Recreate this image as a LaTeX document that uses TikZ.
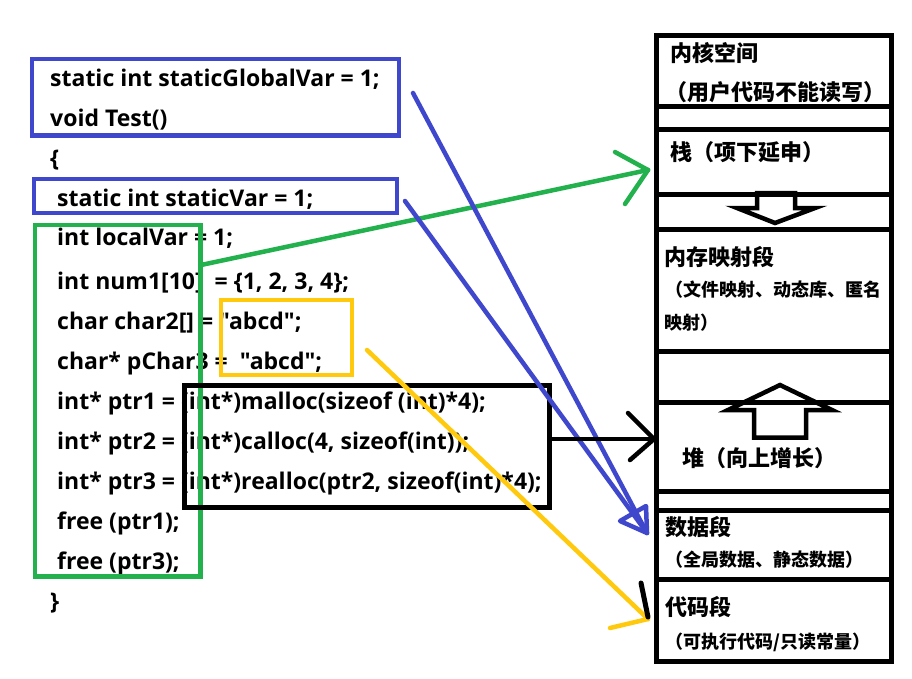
\documentclass[tikz,border=0pt]{standalone}
\usepackage{fontspec}
\newfontfamily\codefont{Open Sans}
\newfontfamily\cjkfont{Noto Sans CJK SC}
\definecolor{myblue}{RGB}{63,72,204}
\definecolor{mygreen}{RGB}{34,177,76}
\definecolor{myyellow}{RGB}{255,201,14}
\begin{document}
\begin{tikzpicture}[x=1pt,y=-1pt,
  code/.style={anchor=base west, inner sep=0pt, font=\codefont\bfseries\fontsize{23}{23}\selectfont},
  head/.style={anchor=west, inner sep=0pt, font=\cjkfont\bfseries\fontsize{22}{22}\selectfont},
  subtext/.style={anchor=west, inner sep=0pt, font=\cjkfont\bfseries\fontsize{18}{18}\selectfont},
  frame/.style={draw=#1, line width=4.5pt, inner sep=0pt, outer sep=0pt, rectangle},
  seg/.style={draw=black, line width=5pt, inner sep=0pt, outer sep=0pt, rectangle, minimum width=235pt},
  blockarrow/.style={draw=black, line width=4.5pt, line join=miter},
  conn/.style={line width=4.5pt, line cap=round},
]
\useasboundingbox[fill=white] (0,0) rectangle (912,678);

% ---------- code text ----------
\node[code] (l1)  at (50,86)  {static int staticGlobalVar = 1;};
\node[code] (l2)  at (50,126) {void Test()};
\node[code] (l3)  at (50,166) {\{};
\node[code] (l4)  at (57,206) {static int staticVar = 1;};
\node[code] (l5)  at (57,245) {int localVar = 1;};
\node[code] (l6)  at (57,289) {int num1[10]\ \ = \{1, 2, 3, 4\};};
\node[code] (l7)  at (57,329) {char char2[] = "abcd";};
\node[code] (l8)  at (57,369) {char* pChar3 =\ \ "abcd";};
\node[code] (l9)  at (57,409) {int* ptr1 = (int*)malloc(sizeof (int)*4);};
\node[code] (l10) at (57,449) {int* ptr2 = (int*)calloc(4, sizeof(int));};
\node[code] (l11) at (57,489) {int* ptr3 = (int*)realloc(ptr2, sizeof(int)*4);};
\node[code] (l12) at (57,529) {free (ptr1);};
\node[code] (l13) at (57,569) {free (ptr3);};
\node[code] (l14) at (50,609) {\}};

% ---------- code frames ----------
\node[frame=myblue, minimum width=367pt, minimum height=76.5pt] (gbox) at (215.5,97.25) {};
\node[frame=myblue, minimum width=363pt, minimum height=34pt] (sbox) at (215.5,196) {};
\node[frame=mygreen, minimum width=165.5pt, minimum height=351.5pt] (localbox) at (117.75,400.75) {};
\node[frame=myyellow, minimum width=131pt, minimum height=75pt] (strbox) at (286.5,337.5) {};
\node[frame=black, line width=5pt, minimum width=365pt, minimum height=121.5pt] (heapbox) at (366.5,446.25) {};

% ---------- memory segments ----------
\node[seg, minimum height=71pt]   (kernel) at (773.5,70.5) {};
\node[seg, minimum height=23.5pt] (gapA)   at (773.5,117.75) {};
\node[seg, minimum height=65pt]   (stack)  at (773.5,162) {};
\node[seg, minimum height=35pt]   (downb)  at (773.5,212) {};
\node[seg, minimum height=121.5pt] (mmap)  at (773.5,290.25) {};
\node[seg, minimum height=51pt]   (upb)    at (773.5,376.5) {};
\node[seg, minimum height=89pt]   (heap)   at (773.5,446.5) {};
\node[seg, minimum height=19pt]   (gapB)   at (773.5,500.5) {};
\node[seg, minimum height=69pt]   (data)   at (773.5,544.5) {};
\node[seg, minimum height=82pt]   (codeseg) at (773.5,620) {};

% block arrows
\draw[blockarrow] (757,193)--(757,208)--(737,208)--(775,223)--(815,208)--(795,208)--(795,193)--cycle;
\draw[blockarrow] (754,437.5)--(754,410)--(728,410)--(780,385)--(832,410)--(806,410)--(806,437.5)--cycle;

% ---------- segment texts ----------
\node[head]    (t1)  at (670,53)  {内核空间};
\node[head]    (t2)  at (665,92)  {（用户代码不能读写）};
\node[head]    (t3)  at (670,152) {栈（项下延申）};
\node[head]    (t4)  at (664,257) {内存映射段};
\node[subtext] (t5)  at (665,290) {（文件映射、动态库、匿名};
\node[subtext] (t6)  at (664,323) {映射）};
\node[head]    (t7)  at (682,458) {堆（向上增长）};
\node[head]    (t8)  at (665,527) {数据段};
\node[subtext] (t9)  at (665,560) {（全局数据、静态数据）};
\node[head]    (t10) at (665,607) {代码段};
\node[subtext] (t11) at (665,642) {（可执行代码/只读常量）};

% ---------- connectors ----------
\coordinate (gs) at (201,265);
\coordinate (gt) at (648,170);
\draw[conn, mygreen] (gs) -- (gt);
\draw[conn, mygreen] (gt) -- ++(-33,-18);
\draw[conn, mygreen] (gt) -- ++(-23,34);

\coordinate (bsA) at (413,93);
\coordinate (bsB) at (405,201);
\coordinate (bt) at (647,533);
\draw[conn, myblue] (bsA) -- (bt);
\draw[conn, myblue] (bsB) -- (bt);
\draw[conn, myblue, line join=round] (646,506) -- (620,521) -- (bt) -- cycle;

\coordinate (ys) at (367,350);
\coordinate (yt) at (648,619);
\draw[conn, myyellow] (ys) -- (yt);
\draw[conn, myyellow] (yt) -- ++(-38,9);
\draw[conn, black, line width=5pt] (yt) ++(0,-2) -- ++(-7,-34);

\coordinate (ht) at (654,439);
\draw[conn, black, line cap=butt] (heapbox.east |- ht) -- (ht);
\draw[conn, black] (ht) -- ++(-26,-26);
\draw[conn, black] (ht) -- ++(-24,21);
\end{tikzpicture}
\end{document}
